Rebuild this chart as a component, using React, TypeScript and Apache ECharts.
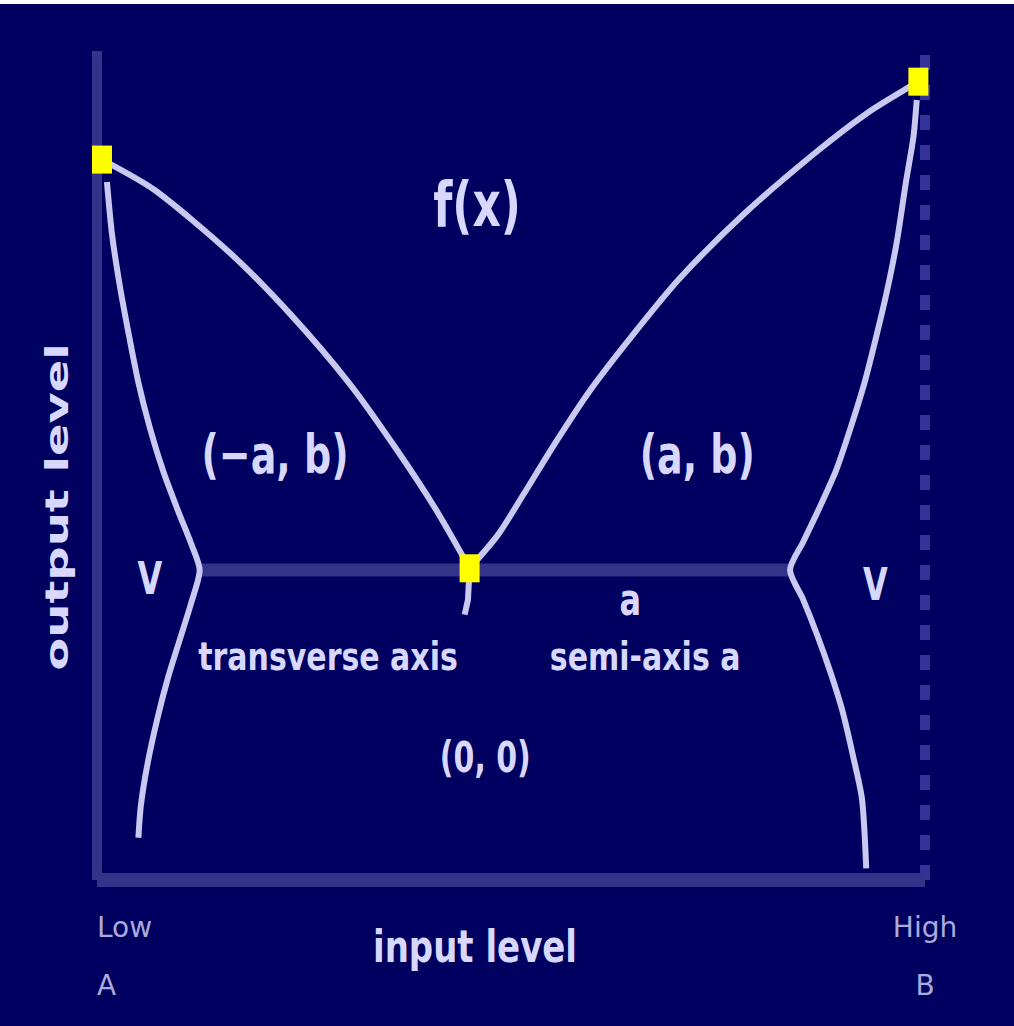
import React, { useEffect, useRef } from "react";
import * as echarts from "echarts";

// ---- data (axis units 0..100) ----
const leftArm: number[][] = [
  [0.6, 86.9], [7.0, 83.2], [16.1, 75.6], [23.4, 68.2], [30.4, 60.0],
  [36.0, 52.2], [40.8, 44.9], [45.0, 37.6],
];
const rightArm: number[][] = [
  [45.0, 37.6], [48.4, 41.6], [51.5, 46.5], [55.2, 52.5], [59.5, 59.0], [64.5, 65.5],
  [70.3, 72.5], [78.1, 80.3], [86.6, 87.6], [93.0, 92.5], [99.2, 96.3],
];
const centerTail: number[][] = [[45.0, 37.6], [44.8, 33.8], [44.4, 32.0]];
const leftBranch: number[][] = [
  [1.2, 84.2], [1.8, 78.0], [2.7, 72.0], [3.8, 66.0], [5.0, 60.0], [6.4, 54.5],
  [8.0, 49.3], [9.8, 44.5], [11.4, 40.5], [12.4, 37.4], [11.4, 33.5], [10.0, 29.0],
  [8.6, 24.5], [7.3, 19.5], [6.1, 14.0], [5.3, 9.0], [5.0, 5.1],
];
const rightBranch: number[][] = [
  [99.0, 94.1], [98.6, 89.6], [97.7, 84.2], [96.6, 77.0], [95.4, 71.0], [94.1, 65.5],
  [92.7, 60.0], [91.0, 54.5], [89.3, 49.5], [87.3, 45.0], [85.3, 40.8], [83.7, 37.4],
  [85.3, 33.8], [87.0, 29.5], [88.6, 25.0], [90.0, 20.5], [91.3, 15.0], [92.4, 9.7],
  [92.9, 1.4],
];
const transverseAxis: number[][] = [[12.4, 37.4], [83.7, 37.4]];
const keyPoints: number[][] = [[0.6, 86.9], [45.0, 37.6], [99.2, 96.3]];

const xTickLabels = ["Low\nA", "High\nB"];
const yAxisTitle = "output level";
const xAxisTitle = "input level";

// annotation texts and their anchor in axis units
const annotationTexts = ["f(x)", "(−a, b)", "(a, b)", "transverse axis", "semi-axis a", "(0, 0)", "V", "a", "V"];
const annotationX = [45.9, 21.5, 72.5, 27.9, 66.2, 46.9, 6.4, 64.4, 94.0];
const annotationY = [81.4, 51.3, 51.3, 27.0, 27.0, 14.8, 36.4, 33.8, 35.6];

// ---- styles ----
const BG = "#000060";
const CURVE = "#c8c8f0";
const AXIS = "#33338a";
const TEXT = "#d8d8ff";
const FONT = "DejaVu Sans";
const annotationSize = [44, 38, 38, 30, 30, 30, 32, 32, 32];
const annotationScaleY = [1.4, 1.4, 1.4, 1.3, 1.3, 1.4, 1.4, 1.4, 1.4];

function curve(name: string, data: number[][], width = 6, color = CURVE, smooth: number | boolean = 0.25) {
  return {
    name,
    type: "line",
    data,
    showSymbol: false,
    smooth,
    lineStyle: { color, width, cap: "butt" },
    z: 3,
  };
}

export default function App() {
  const ref = useRef<HTMLDivElement>(null);

  useEffect(() => {
    document.body.style.margin = "0";
    if (!ref.current) return;
    const chart = echarts.init(ref.current, undefined, { renderer: "svg" });
    chart.setOption({
      animation: false,
      backgroundColor: BG,
      grid: { left: 97, right: 89, top: 47, bottom: 146 },
      xAxis: {
        type: "value",
        min: 0,
        max: 100,
        interval: 100,
        axisLine: { show: true, lineStyle: { color: AXIS, width: 14, cap: "butt" } },
        axisTick: { show: false },
        splitLine: { show: false },
        axisLabel: {
          color: "#aaaadd",
          fontSize: 28,
          fontFamily: FONT,
          lineHeight: 58,
          margin: 18,
          alignMinLabel: "left",
          formatter: (v: number) => (v === 0 ? xTickLabels[0] : xTickLabels[1]),
        },
      },
      yAxis: [
        {
          type: "value",
          min: 0,
          max: 100,
          position: "left",
          axisLine: { show: true, lineStyle: { color: AXIS, width: 10, cap: "butt" } },
          axisTick: { show: false },
          axisLabel: { show: false },
          splitLine: { show: false },
        },
        {
          type: "value",
          min: 0,
          max: 100,
          position: "right",
          axisLine: { show: true, lineStyle: { color: "#333399", width: 10, type: [15, 15], cap: "butt" } },
          axisTick: { show: false },
          axisLabel: { show: false },
          splitLine: { show: false },
        },
      ],
      series: [
        curve("transverse", transverseAxis, 13, AXIS, false),
        curve("leftArm", leftArm),
        curve("rightArm", rightArm),
        curve("centerTail", centerTail, 6, CURVE, false),
        curve("leftBranch", leftBranch),
        curve("rightBranch", rightBranch),
        {
          name: "points",
          type: "scatter",
          data: keyPoints,
          symbol: "rect",
          symbolSize: [20, 28],
          itemStyle: { color: "#ffff00", opacity: 1 },
          z: 5,
        },
      ],
    });

    const els: any[] = annotationTexts.map((t, i) => {
      const p = chart.convertToPixel({ gridIndex: 0 }, [annotationX[i], annotationY[i]]) as number[];
      return {
        type: "text",
        x: p[0],
        y: p[1],
        scaleY: annotationScaleY[i],
        style: {
          text: t,
          fill: TEXT,
          fontSize: annotationSize[i],
          fontFamily: FONT,
          fontWeight: 600,
          align: "center",
          verticalAlign: "middle",
          textAlign: "center",
          textVerticalAlign: "middle",
        },
        z: 10,
      };
    });
    els.push({
      type: "text",
      x: 57,
      y: 503,
      rotation: Math.PI / 2,
      scaleX: 1.5,
      style: {
        text: yAxisTitle,
        fill: TEXT,
        fontSize: 32,
        fontFamily: FONT,
        fontWeight: 600,
        align: "center",
        verticalAlign: "middle",
        textAlign: "center",
        textVerticalAlign: "middle",
      },
      z: 10,
    });
    els.push({
      type: "text",
      x: 475,
      y: 942,
      scaleY: 1.3,
      style: {
        text: xAxisTitle,
        fill: TEXT,
        fontSize: 34,
        fontFamily: FONT,
        fontWeight: 600,
        align: "center",
        verticalAlign: "middle",
        textAlign: "center",
        textVerticalAlign: "middle",
      },
      z: 10,
    });
    chart.setOption({ graphic: { elements: els } });

    return () => chart.dispose();
  }, []);

  return (
    <div style={{ position: "absolute", left: 0, top: 0, width: 1014, height: 1026, background: "#ffffff" }}>
      <div ref={ref} style={{ position: "absolute", left: 0, top: 4, width: 1014, height: 1022 }} />
    </div>
  );
}
